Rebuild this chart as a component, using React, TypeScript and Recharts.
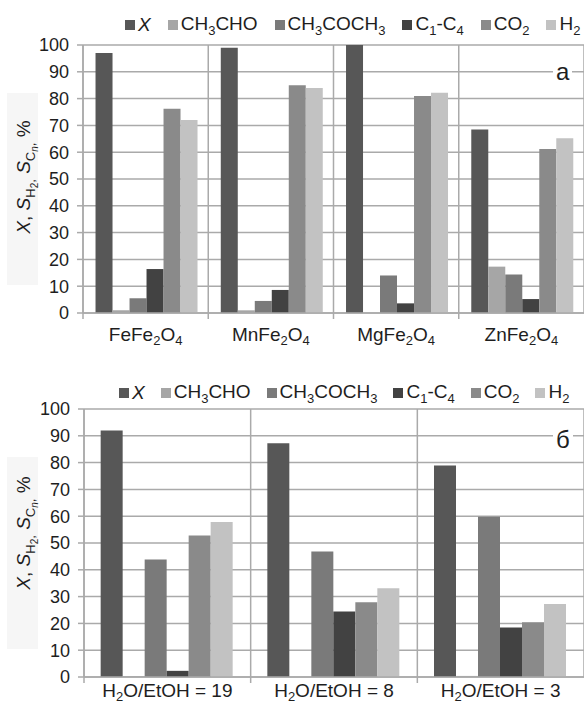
import React from 'react';
import { BarChart, Bar, XAxis, YAxis, CartesianGrid } from 'recharts';

const FONT = '"Liberation Sans", Arial, sans-serif';
const GRID = '#aaaaaa';
const TEXT = '#1e1e1e';

// panel a: catalysts
const catalysts = ['FeFe_2O_4', 'MnFe_2O_4', 'MgFe_2O_4', 'ZnFe_2O_4'];
const convA = [97, 99, 100, 68.5];
const ch3choA = [1, 1, 0, 17.3];
const acetoneA = [5.5, 4.5, 14, 14.4];
const c1c4A = [16.4, 8.6, 3.6, 5.2];
const co2A = [76.2, 85, 81, 61.2];
const h2A = [72, 84, 82.2, 65.2];

// panel б: water/ethanol ratio
const ratios = ['H_2O/EtOH = 19', 'H_2O/EtOH = 8', 'H_2O/EtOH = 3'];
const convB = [92, 87.2, 78.9];
const ch3choB = [0.3, 0, 0.4];
const acetoneB = [43.8, 46.8, 59.8];
const c1c4B = [2.3, 24.4, 18.5];
const co2B = [52.8, 27.9, 20.4];
const h2B = [57.8, 33.1, 27.2];

const yTicks = [0, 10, 20, 30, 40, 50, 60, 70, 80, 90, 100];

const series = [
  { key: 'x', label: 'X', italic: true, color: '#575757' },
  { key: 'ch3cho', label: 'CH_3CHO', color: '#a6a6a6' },
  { key: 'acetone', label: 'CH_3COCH_3', color: '#7a7a7a' },
  { key: 'c1c4', label: 'C_1-C_4', color: '#424242' },
  { key: 'co2', label: 'CO_2', color: '#8a8a8a' },
  { key: 'h2', label: 'H_2', color: '#c2c2c2' },
];

const build = (cats: string[], cols: number[][]) =>
  cats.map((name, i) => {
    const row: any = { name };
    series.forEach((s, j) => (row[s.key] = cols[j][i]));
    return row;
  });

const dataA = build(catalysts, [convA, ch3choA, acetoneA, c1c4A, co2A, h2A]);
const dataB = build(ratios, [convB, ch3choB, acetoneB, c1c4B, co2B, h2B]);

const split = (s: string) => s.split(/(_.)/).filter(Boolean);

const htmlSub = (s: string) =>
  split(s).map((t, i) =>
    t[0] === '_' ? (
      <span key={i} style={{ fontSize: 13, position: 'relative', top: 5 }}>{t[1]}</span>
    ) : (
      <span key={i}>{t}</span>
    )
  );

const svgSub = (s: string) => {
  let low = false;
  return split(s).map((t, i) => {
    if (t[0] === '_') {
      const el = <tspan key={i} fontSize={13} dy={low ? 0 : 4}>{t[1]}</tspan>;
      low = true;
      return el;
    }
    const el = <tspan key={i} dy={low ? -4 : 0}>{t}</tspan>;
    low = false;
    return el;
  });
};

const LegendRow = ({ left, top, gap }: { left: number; top: number; gap: number }) => (
  <div
    style={{
      position: 'absolute', left, top, display: 'flex', alignItems: 'center',
      fontFamily: FONT, fontSize: 19, lineHeight: '20px', color: TEXT, whiteSpace: 'nowrap',
    }}
  >
    {series.map((s) => (
      <span key={s.key} style={{ display: 'flex', alignItems: 'center', marginRight: gap }}>
        <span style={{ width: 10, height: 10, background: s.color, marginRight: 3 }} />
        <span style={{ fontStyle: s.italic ? 'italic' : 'normal' }}>{htmlSub(s.label)}</span>
      </span>
    ))}
  </div>
);

const CategoryTick = (props: any) => {
  const { x, y, payload, base } = props;
  const half = payload.offset || 0;
  return (
    <g>
      <line x1={x - half} x2={x - half} y1={y} y2={y + 6} stroke={GRID} strokeWidth={1.5} />
      <text x={x} y={y + base} textAnchor="middle" fontSize={19} fill={TEXT} fontFamily={FONT}>
        {svgSub(payload.value)}
      </text>
    </g>
  );
};

const AxisTitle = ({ viewBox, shift }: any) => {
  const cx = 30;
  const cy = viewBox.y + viewBox.height / 2 + shift;
  return (
    <g>
      <rect x={7} y={viewBox.y + 48} width={31} height={192} fill="#f6f6f6" />
      <text
        x={cx} y={cy} transform={`rotate(-90 ${cx} ${cy})`} textAnchor="middle"
        fontSize={19} fill={TEXT} fontFamily={FONT}
      >
        <tspan fontStyle="italic">X</tspan>
        <tspan>{', '}</tspan>
        <tspan fontStyle="italic">S</tspan>
        <tspan fontSize={13} dy={5}>H</tspan>
        <tspan fontSize={10} dy={3}>2</tspan>
        <tspan fontSize={13} dy={-3}>,</tspan>
        <tspan dy={-5}>{' '}</tspan>
        <tspan fontStyle="italic">S</tspan>
        <tspan fontSize={13} dy={5}>C</tspan>
        <tspan fontSize={10} dy={3} fontStyle="italic">n</tspan>
        <tspan fontSize={13} dy={-3}>,</tspan>
        <tspan dy={-5}>{' %'}</tspan>
      </text>
    </g>
  );
};

const PanelMark = ({ top, children }: { top: number; children: React.ReactNode }) => (
  <div
    style={{
      position: 'absolute', left: 553, top, padding: '0 3px', background: '#fff',
      fontFamily: FONT, fontSize: 24, lineHeight: '24px', color: TEXT,
    }}
  >
    {children}
  </div>
);

const Panel = ({ data, top, marginTop, axisHeight, yWidth, base, shift }: any) => {
  const n = data.length;
  return (
    <div style={{ position: 'absolute', left: 0, top }}>
      <BarChart
        width={584} height={352} data={data}
        margin={{ top: marginTop, right: 0, left: 0, bottom: 0 }}
        barCategoryGap="10%" barGap={0}
      >
        <CartesianGrid
          stroke={GRID} strokeWidth={1.5}
          verticalCoordinatesGenerator={({ offset }: any) =>
            Array.from({ length: n + 1 }, (_, i) => offset.left + (i * offset.width) / n)
          }
        />
        <XAxis
          dataKey="name" height={axisHeight} interval={0}
          axisLine={{ stroke: GRID, strokeWidth: 1.5 }} tickLine={false} tickSize={0} tickMargin={0}
          tick={(p: any) => <CategoryTick {...p} base={base} />}
        />
        <YAxis
          width={yWidth} domain={[0, 100]} ticks={yTicks} interval={0}
          axisLine={{ stroke: GRID, strokeWidth: 1.5 }} tickLine={{ stroke: GRID, strokeWidth: 1.5 }}
          tickSize={6} tickMargin={8}
          tick={{ fill: TEXT, fontSize: 18, fontFamily: FONT }}
          label={{ content: (p: any) => <AxisTitle viewBox={p.viewBox} shift={shift} /> }}
        />
        {series.map((s) => (
          <Bar key={s.key} dataKey={s.key} fill={s.color} isAnimationActive={false} />
        ))}
      </BarChart>
    </div>
  );
};

export default function App() {
  return (
    <div style={{ position: 'absolute', left: 0, top: 0, width: 584, height: 704, background: '#fff' }}>
      <Panel data={dataA} top={0} marginTop={45} axisHeight={39} yWidth={83} base={28} shift={-2} />
      <LegendRow left={125} top={14} gap={17} />
      <PanelMark top={60}>а</PanelMark>
      <Panel data={dataB} top={352} marginTop={57} axisHeight={27} yWidth={84} base={20} shift={-10} />
      <LegendRow left={119} top={382} gap={16} />
      <PanelMark top={428}>б</PanelMark>
    </div>
  );
}
